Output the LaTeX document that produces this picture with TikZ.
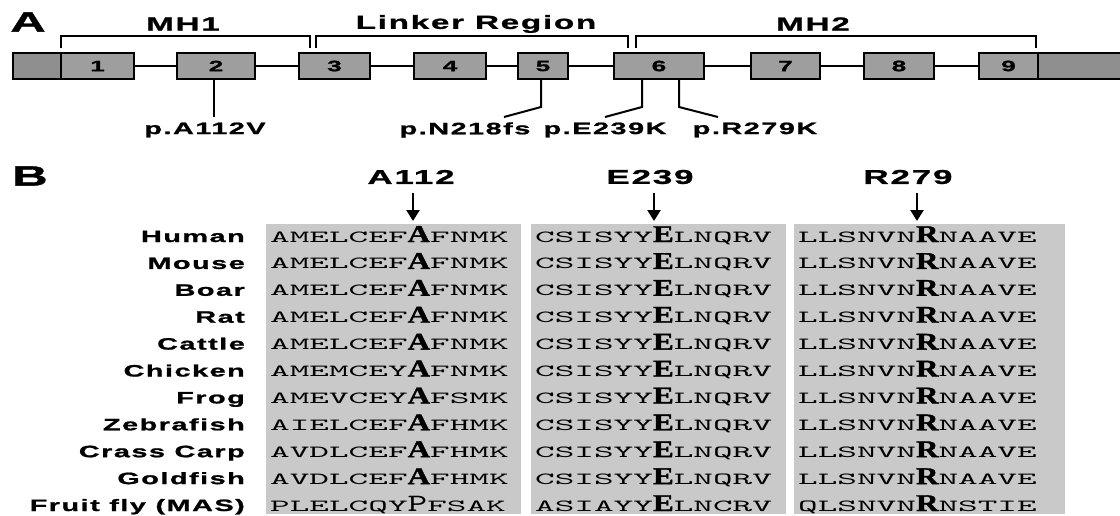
\documentclass[tikz,border=0pt]{standalone}
\usepackage{fontspec}
\usepackage{tikz}
\usetikzlibrary{arrows.meta}

\newfontfamily\labfont[FakeStretch=1.75,LetterSpace=9,BoldFeatures={FakeBold=1.2}]{Liberation Sans}
\newfontfamily\seqfont[Extension=.otf,FakeStretch=2.2]{lmmono10-regular}
\newfontfamily\hlfont[FakeStretch=1.3,BoldFeatures={FakeBold=1.5}]{Liberation Serif}
\newfontfamily\hlpfont[Extension=.otf,FakeStretch=1.5]{lmmono10-regular}

\definecolor{exongray}{HTML}{9E9E9E}
\definecolor{capgray}{HTML}{8F8F8F}
\definecolor{alngray}{HTML}{C9C9C9}

\newcommand{\hl}[1]{{\hlfont\bfseries\fontsize{24}{24}\selectfont #1}}
\newcommand{\hlp}[1]{{\hlpfont\fontsize{25}{25}\selectfont #1}}

\begin{document}
\begin{tikzpicture}[x=1pt,y=-1pt,
    panel/.style={font=\labfont\bfseries\fontsize{28}{28}\selectfont},
    head/.style={font=\labfont\bfseries\fontsize{19}{19}\selectfont},
    mutlab/.style={font=\labfont\bfseries\fontsize{16.5}{16.5}\selectfont},
    exon/.style={draw,line width=1.3pt,fill=exongray,minimum height=26pt,inner sep=0pt,
      font=\labfont\bfseries\fontsize{15}{15}\selectfont},
    capbox/.style={exon,fill=capgray},
    intron/.style={line width=2pt},
    bracket/.style={line width=1.6pt},
    mut/.style={line width=2pt},
    species/.style={anchor=base east,inner sep=0pt,font=\labfont\bfseries\fontsize{16.5}{16.5}\selectfont},
    seq/.style={anchor=base west,inner sep=0pt,font=\seqfont\fontsize{17}{17}\selectfont},
    resarrow/.style={line width=2.4pt,-{Triangle[width=13pt,length=11pt]}}]
  \useasboundingbox (0,0) rectangle (1120,515);

  % panel A: gene structure
  \node[panel] (pa) at (28,22) {A};
  \node[capbox,minimum width=48pt] (capL) at (37,66) {};
  \foreach \n/\l/\r in {1/61/134,2/177/255,3/299/370,4/414/486,5/518/568,
      6/614/704,7/751/820,8/864/934,9/979/1038}
    \node[exon,minimum width=\r pt-\l pt] (e\n) at ({(\l+\r)/2},66) {\n};
  \node[capbox,minimum width=90pt] (capR) at (1083,66) {};
  \foreach \a/\b in {e1/e2,e2/e3,e3/e4,e4/e5,e5/e6,e6/e7,e7/e8,e8/e9}
    \draw[intron] (\a) -- (\b);

  % domains
  \draw[bracket] (61,48) -- (61,36) -- (310,36) -- (310,48);
  \draw[bracket] (316,48) -- (316,36) -- (628,36) -- (628,48);
  \draw[bracket] (636,48) -- (636,36) -- (1036,36) -- (1036,48);
  \node[head] (mh1) at (183,24) {MH1};
  \node[head] (linker) at (476,24) {Linker Region};
  \node[head] (mh2) at (813,24) {MH2};

  % mutations
  \coordinate (ma1) at (214,79);
  \coordinate (ma2) at (214,117);
  \coordinate (mn1) at (541,79);
  \coordinate (mn2) at (541,107);
  \coordinate (mn3) at (504,117);
  \coordinate (me1) at (642,79);
  \coordinate (me2) at (642,107);
  \coordinate (me3) at (605,117);
  \coordinate (mr1) at (679,79);
  \coordinate (mr2) at (679,107);
  \coordinate (mr3) at (718,117);
  \draw[mut] (ma1) -- (ma2);
  \draw[mut] (mn1) -- (mn2) -- (mn3);
  \draw[mut] (me1) -- (me2) -- (me3);
  \draw[mut] (mr1) -- (mr2) -- (mr3);
  \node[mutlab] (pA112V) at (205,130) {p.A112V};
  \node[mutlab] (pN218fs) at (465,130) {p.N218fs};
  \node[mutlab] (pE239K) at (605,130) {p.E239K};
  \node[mutlab] (pR279K) at (755,130) {p.R279K};

  % panel B: alignment
  \node[panel] (pb) at (30,176) {B};
  \fill[alngray] (266,224) rectangle (521,514);
  \fill[alngray] (531,224) rectangle (786,514);
  \fill[alngray] (794,224) rectangle (1065,514);

  \node[head,font=\labfont\bfseries\fontsize{20}{20}\selectfont] (rA) at (411,177) {A112};
  \node[head,font=\labfont\bfseries\fontsize{20}{20}\selectfont] (rE) at (650,177) {E239};
  \node[head,font=\labfont\bfseries\fontsize{20}{20}\selectfont] (rR) at (908,177) {R279};
  \coordinate (tA0) at (413,193);
  \coordinate (tA) at (413,221);
  \coordinate (tE0) at (654,193);
  \coordinate (tE) at (654,221);
  \coordinate (tR0) at (917,193);
  \coordinate (tR) at (917,221);
  \draw[resarrow] (tA0) -- (tA);
  \draw[resarrow] (tE0) -- (tE);
  \draw[resarrow] (tR0) -- (tR);

  \foreach \sp/\sa/\sb/\sc [count=\i] in {
      Human/AMELCEF\hl{A}FNMK/CSISYY\hl{E}LNQRV/LLSNVN\hl{R}NAAVE,
      Mouse/AMELCEF\hl{A}FNMK/CSISYY\hl{E}LNQRV/LLSNVN\hl{R}NAAVE,
      Boar/AMELCEF\hl{A}FNMK/CSISYY\hl{E}LNQRV/LLSNVN\hl{R}NAAVE,
      Rat/AMELCEF\hl{A}FNMK/CSISYY\hl{E}LNQRV/LLSNVN\hl{R}NAAVE,
      Cattle/AMELCEF\hl{A}FNMK/CSISYY\hl{E}LNQRV/LLSNVN\hl{R}NAAVE,
      Chicken/AMEMCEY\hl{A}FNMK/CSISYY\hl{E}LNQRV/LLSNVN\hl{R}NAAVE,
      Frog/AMEVCEY\hl{A}FSMK/CSISYY\hl{E}LNQRV/LLSNVN\hl{R}NAAVE,
      Zebrafish/AIELCEF\hl{A}FHMK/CSISYY\hl{E}LNQRV/LLSNVN\hl{R}NAAVE,
      Crass Carp/AVDLCEF\hl{A}FHMK/CSISYY\hl{E}LNQRV/LLSNVN\hl{R}NAAVE,
      Goldfish/AVDLCEF\hl{A}FHMK/CSISYY\hl{E}LNQRV/LLSNVN\hl{R}NAAVE,
      Fruit fly (MAS)/PLELCQY\hlp{P}FSAK/ASIAYY\hl{E}LNCRV/QLSNVN\hl{R}NSTIE}
  {
    \pgfmathsetmacro\yy{242+26.9*(\i-1)}
    \node[species] (sp\i) at (245,\yy) {\sp};
    \node[seq] (sa\i) at (270,\yy) {\sa};
    \node[seq] (sb\i) at (535,\yy) {\sb};
    \node[seq] (sc\i) at (798,\yy) {\sc};
  }
\end{tikzpicture}
\end{document}
